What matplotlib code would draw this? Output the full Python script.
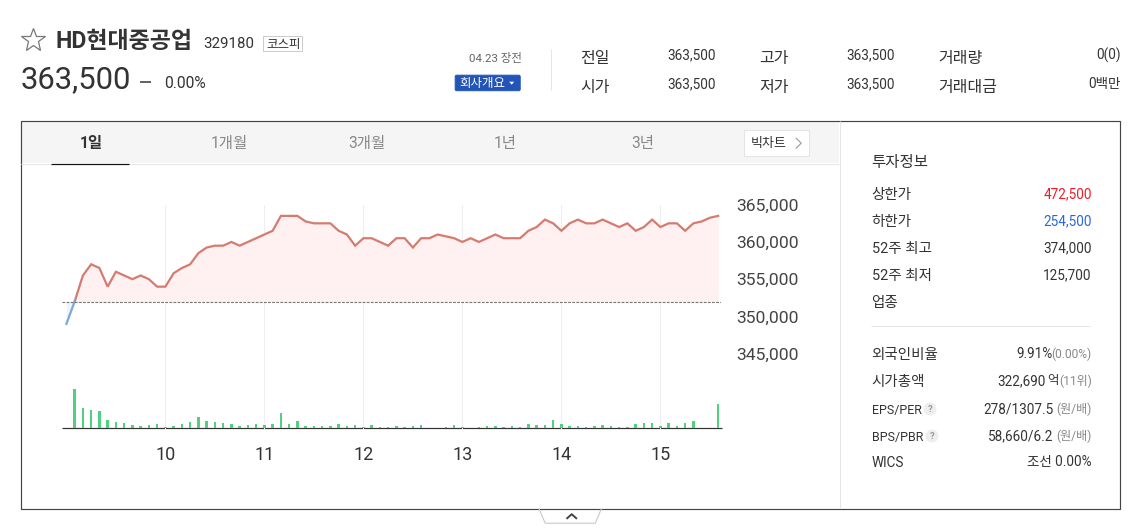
import matplotlib
matplotlib.use("Agg")
import numpy as np
import matplotlib.pyplot as plt
from matplotlib.patches import Rectangle, FancyBboxPatch, Circle, Polygon

plt.rcParams['font.family'] = ['Roboto', 'Noto Sans CJK KR', 'DejaVu Sans']

W, H = 1140, 530
SHIFT = 0.8

# 5 minute prices from 9:00
prices = [349000, 352000, 355500, 357000, 356500, 354000, 356000, 355500, 355000, 355500,
          355000, 354000, 354000, 355800, 356500, 357000, 358500, 359250, 359500, 359500,
          360000, 359500, 360000, 360500, 361000, 361500, 363500, 363500, 363500, 362750,
          362500, 362500, 362500, 361500, 361000, 359500, 360500, 360500, 360000, 359500,
          360500, 360500, 359250, 360500, 360500, 361000, 360750, 360500, 360000, 360500,
          360000, 360500, 361000, 360500, 360500, 360500, 361500, 362000, 363000, 362500,
          361500, 362500, 363000, 362500, 362500, 363000, 362500, 362000, 362500, 361500,
          362000, 363000, 362000, 362500, 362500, 361500, 362500, 362750, 363250, 363500]
volumes = [0, 39, 20, 18, 17, 8, 6, 5, 3, 2,
           3, 4, 1, 2, 4, 6, 11, 7, 6, 5,
           4, 2, 3, 4, 3, 4, 15, 4, 7, 2,
           2, 2, 2, 4, 2, 3, 1, 3, 1, 1,
           2, 1, 2, 3, 0, 0, 1, 3, 1, 0,
           1, 2, 2, 1, 2, 1, 4, 3, 3, 8,
           4, 2, 2, 1, 2, 3, 2, 1, 1, 4,
           5, 5, 2, 5, 2, 5, 7, 0, 0, 24]
base_price = 352000
price_ticks = [365000, 360000, 355000, 350000, 345000]
hour_ticks = [10, 11, 12, 13, 14, 15]

stats_left = [("전일", "363,500"), ("시가", "363,500")]
stats_mid = [("고가", "363,500"), ("저가", "363,500")]
stats_right = [("거래량", "0(0)"), ("거래대금", "0백만")]
tabs = ["1일", "1개월", "3개월", "1년", "3년"]
info_top = [("상한가", "472,500", "#f01c24"), ("하한가", "254,500", "#2b66d9"),
            ("52주 최고", "374,000", "#333333"), ("52주 최저", "125,700", "#333333"),
            ("업종", "", "#333333")]
info_bottom = [("외국인비율", "9.91%", "(0.00%)"), ("시가총액", "322,690", "(11위)"),
               ("EPS/PER", "278/1307.5", "(원/배)"), ("BPS/PBR", "58,660/6.2", "(원/배)")]

hours = 9 + np.arange(len(prices)) * 5 / 60
prices = np.array(prices)
volumes = np.array(volumes)

fig = plt.figure(figsize=(W / 100, H / 100), dpi=100, facecolor="white")

# page layer in pixel coordinates
ui = fig.add_axes([0, 0, 1, 1])
ui.set_xlim(SHIFT, W + SHIFT)
ui.set_ylim(H + SHIFT, SHIFT)
ui.axis('off')


def px_axes(x0, y0, x1, y1):
    x0, x1, y0, y1 = x0 - SHIFT, x1 - SHIFT, y0 - SHIFT, y1 - SHIFT
    ax = fig.add_axes([x0 / W, 1 - y1 / H, (x1 - x0) / W, (y1 - y0) / H])
    ax.patch.set_alpha(0)
    ax.axis('off')
    return ax


def label(x, y, s, size, color="#333333", ha="left", weight="normal"):
    # size is given in pixels
    dx = {"left": 0.4, "center": SHIFT, "right": 2.5}[ha]
    ui.text(x + dx, y + 2.2, s, fontsize=size * 0.72, color=color, ha=ha, va="center", fontweight=weight)


def hline(x0, x1, y, color, lw=1):
    ui.plot([x0, x1], [y, y], color=color, lw=lw * 0.72, solid_capstyle="butt")


def vline(x, y0, y1, color, lw=1):
    ui.plot([x, x], [y0, y1], color=color, lw=lw * 0.72, solid_capstyle="butt")


# header
ui.plot([33.5], [40.5], marker="*", ms=18, mfc="none", mec="#777777", mew=0.9)
label(56, 40.5, "HD현대중공업", 23, weight="bold")
label(204, 42.5, "329180", 15)
ui.add_patch(Rectangle((264, 36.5), 39, 15, fc="white", ec="#cccccc", lw=0.72))
label(283.5, 43, "코스피", 12.5, ha="center")
label(21, 78, "363,500", 31)
hline(141, 152, 83, "#333333", 1.5)
label(165, 82.5, "0.00%", 15.5)
label(520, 57, "04.23 장전", 11.5, color="#666666", ha="right")
ui.add_patch(FancyBboxPatch((456, 76), 65, 15.5, boxstyle="round,pad=0,rounding_size=1.5",
                            fc="#2355b8", ec="#2355b8", lw=0.72))
label(482, 82, "회사개요", 12.5, color="white", ha="center")
ui.add_patch(Polygon([(510, 82.5), (515, 82.5), (512.5, 85.5)], fc="white", ec="none"))
vline(551.5, 50, 91, "#e5e5e5")

for x_name, x_val, rows in [(581, 714, stats_left), (760, 893, stats_mid), (939, 1119, stats_right)]:
    for (name, val), y_name, y_val in zip(rows, [57, 86], [54, 83]):
        label(x_name, y_name, name, 16)
        label(x_val, y_val, val, 13.5, ha="right")

# chart frame and tabs
ui.add_patch(Rectangle((22, 122), 818, 42, fc="#f5f5f5", ec="none"))
hline(22, 840, 164.5, "#e5e5e5")
vline(840.5, 122, 509, "#e5e5e5")
ui.add_patch(Rectangle((21.5, 122), 1099.5, 388, fc="none", ec="#444444", lw=0.85))
hline(52, 130, 164.5, "#111111", 1.2)
for i, (tab, x) in enumerate(zip(tabs, [91, 229, 367, 505, 643])):
    if i == 0:
        label(x, 142, tab, 15.5, ha="center", weight="bold")
    else:
        label(x, 142, tab, 15.5, color="#888888", ha="center")
ui.add_patch(Rectangle((744.5, 131), 65, 26, fc="white", ec="#e5e5e5", lw=0.8))
label(769, 142.5, "빅차트", 13, ha="center")
ui.plot([797, 802, 797], [139, 144, 149], color="#999999", lw=0.8)

# price line, pixel scale: 5000 won = 37.25 px, 365000 at y=205
px_per_hour = 99
hour_at = lambda px: 10 + (px - 165.7) / px_per_hour
price_at = lambda py: 365000 - (py - 205) / 37.25 * 5000

ax = px_axes(62.5, 205.5, 721.5, 429.5)
ax.set_xlim(hour_at(62), hour_at(721))
ax.set_ylim(price_at(429), price_at(205))
for h in hour_ticks:
    ax.axvline(h, color="#efefef", lw=0.8, zorder=0)
ax.fill_between(hours, prices, base_price, where=prices >= base_price, color="#fff0f1", lw=0, zorder=1)
ax.fill_between(hours, prices, base_price, where=prices <= base_price, color="#eef4fd", lw=0, zorder=1)
ax.plot(hours[1:], prices[1:], color="#d57b6f", lw=1.6, solid_joinstyle="miter", zorder=3)
ax.plot(hours[:2], prices[:2], color="#7aa9dd", lw=1.6, zorder=3)
ax.axhline(base_price, color="#777777", lw=0.8, ls=(0, (2.5, 1.2)), zorder=4)

for p in price_ticks:
    ui.text(737.2, 205 + (365000 - p) / 5000 * 37.25 + 2, f"{p:,}", fontsize=17.5 * 0.72, color="#444444",
            ha="left", va="center")
for h in hour_ticks:
    ui.text(165.7 + (h - 10) * px_per_hour + SHIFT, 454.5 + 1, str(h), fontsize=18 * 0.72, color="#333333",
            ha="center", va="center")

# volume bars
vol = px_axes(62.5, 380.5, 721.5, 429)
vol.set_xlim(hour_at(62), hour_at(721))
vol.set_ylim(0, 48.5)
show = volumes > 0
vol.bar(hours[show], volumes[show], width=2.6 / px_per_hour, color="#4fd280", lw=0)
hline(62.5, 722.5, 429, "#333333", 1.2)

# investment info panel
label(872, 161, "투자정보", 15.5, weight="medium")
for (name, val, color), y in zip(info_top, [194, 221, 248, 275, 302]):
    label(872, y, name, 14.5)
    if val:
        label(1090, y - 1.5, val, 13.5, color=color, ha="right")
hline(872, 1091, 326.5, "#e5e5e5")

rows_y = [354, 381, 409, 436]
value_right = [1051, 1044, 1052, 1052]
name_size = [14.5, 14.5, 12.5, 12.5]
for (name, val, small), y, xr, ns in zip(info_bottom, rows_y, value_right, name_size):
    label(872, y, name, ns)
    label(xr, y - 1, val, 13.5, ha="right")
    label(1090, y - 1, small, 12, color="#888888", ha="right")
label(1057, 379.5, "억", 12.5, ha="right")
for x, y in [(930, 409), (932, 436)]:
    ui.add_patch(Circle((x + SHIFT, y + SHIFT), 6.5, fc="#eeeeee", ec="none"))
    label(x, y - 1, "?", 9.5, color="#999999", ha="center", weight="bold")
label(872, 462, "WICS", 13.5)
label(1090, 461, "조선 0.00%", 13.5, ha="right")

# fold tab under the frame
ui.plot([540, 546, 596, 602], [510, 524, 524, 510], color="#c8c8c8", lw=0.8)
ui.plot([568, 572.5, 577], [519, 515, 519], color="#444444", lw=1.4)

fig.savefig("out.png", dpi=100)
